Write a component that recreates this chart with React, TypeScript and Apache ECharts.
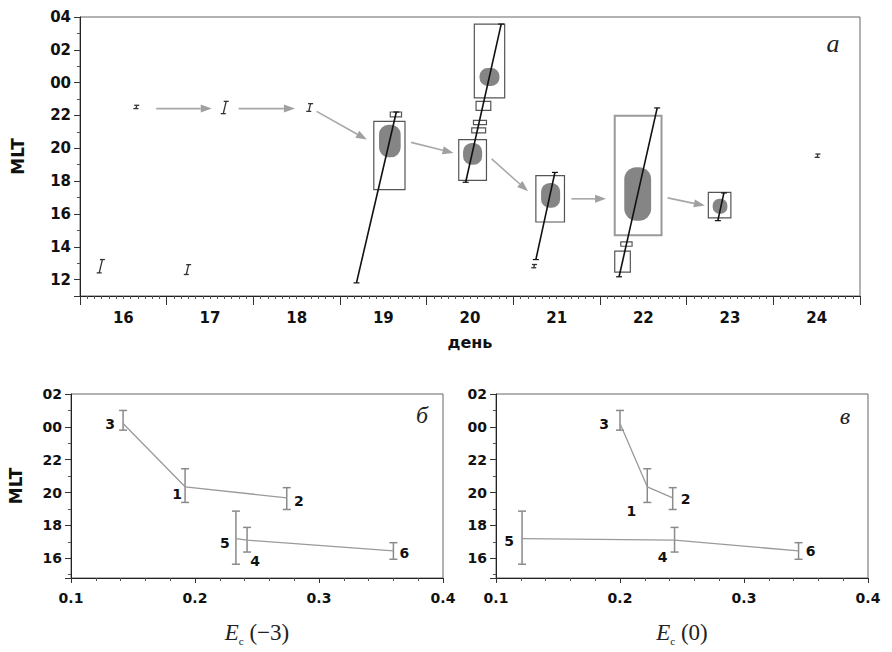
import React, { useEffect, useRef } from 'react';
import * as echarts from 'echarts';

// ---------- panel a: day vs MLT (values above 24 are hours after midnight) ----------
const dayLabels = ['16', '17', '18', '19', '20', '21', '22', '23', '24'];

// [dayFrom, dayTo, mltLow, mltHigh]
const regionBoxes = [
  [19.39, 19.75, 17.48, 21.64],
  [19.58, 19.71, 21.91, 22.21],
  [20.55, 20.90, 23.07, 27.57],
  [20.57, 20.74, 22.31, 22.86],
  [20.54, 20.69, 21.44, 21.70],
  [20.52, 20.68, 20.94, 21.24],
  [20.37, 20.69, 18.05, 20.53],
  [21.26, 21.59, 15.51, 18.33],
  [22.24, 22.37, 14.03, 14.30],
  [22.17, 22.35, 12.45, 13.73],
  [23.25, 23.51, 15.76, 17.32],
];
const wideBoxes = [[22.17, 22.71, 14.70, 21.99]];

// [dayFrom, dayTo, mltLow, mltHigh]
const blobs = [
  [19.45, 19.70, 19.45, 21.44],
  [20.61, 20.84, 23.80, 24.89],
  [20.42, 20.64, 19.00, 20.33],
  [21.32, 21.54, 16.37, 17.89],
  [22.28, 22.59, 15.59, 18.84],
  [23.30, 23.47, 16.01, 16.92],
];

// [day1, mlt1, day2, mlt2]
const fitLines = [
  [19.19, 11.80, 19.65, 22.21],
  [20.45, 17.93, 20.86, 27.57],
  [21.26, 13.22, 21.48, 18.53],
  [22.22, 12.17, 22.66, 22.46],
  [23.36, 15.59, 23.43, 17.28],
];

const driftArrows = [
  [16.88, 22.42, 17.52, 22.42],
  [17.83, 22.42, 18.48, 22.42],
  [18.73, 22.25, 19.31, 20.53],
  [19.82, 20.36, 20.31, 19.72],
  [20.75, 19.35, 21.17, 17.38],
  [21.67, 16.92, 22.07, 16.92],
  [22.78, 16.98, 23.21, 16.51],
];

// [day, mltLow, mltHigh]
const spotMarks = [
  [16.65, 22.42, 22.62],
  [17.67, 22.11, 22.86],
  [18.65, 22.25, 22.72],
  [16.24, 12.41, 13.22],
  [17.24, 12.31, 12.91],
  [21.24, 12.72, 12.92],
  [24.51, 19.45, 19.65],
];

// ---------- panels б and в ----------
const pointIds = ['1', '2', '3', '4', '5', '6'];
const mltMean = [20.35, 19.68, 24.2, 17.1, 17.2, 16.45];
const mltLow = [19.4, 18.97, 23.8, 16.38, 15.64, 15.94];
const mltHigh = [21.45, 20.3, 25.0, 17.88, 18.87, 16.95];
const ecMinus3 = [0.192, 0.274, 0.142, 0.242, 0.233, 0.36];
const ecZero = [0.222, 0.2425, 0.2, 0.244, 0.121, 0.344];
const chainA = [2, 0, 1]; // 3 -> 1 -> 2
const chainB = [4, 3, 5]; // 5 -> 4 -> 6

// label offsets in px (styling)
const labelOffB = [[-8, 7], [12, 3], [-13, 0], [8, 21], [-11, 4], [11, 2]];
const labelOffV = [[-16, 24], [13, 1], [-16, 0], [-12, 17], [-13, 2], [12, 0]];

const mltFormat = (v: number) => {
  const r = Math.round(v);
  if (Math.abs(v - r) > 1e-6 || r % 2 !== 0) return '';
  const h = ((r % 24) + 24) % 24;
  return String(h).padStart(2, '0');
};

const tickFont = { fontFamily: 'DejaVu Sans', fontWeight: 'bold' as const, color: '#111' };
const axisLineStyle = { color: '#222', width: 1 };

function boxRender(stroke: string, lw: number) {
  return (params: any, api: any) => {
    const a = api.coord([api.value(0), api.value(3)]);
    const b = api.coord([api.value(1), api.value(2)]);
    return {
      type: 'rect',
      shape: { x: a[0], y: a[1], width: b[0] - a[0], height: b[1] - a[1] },
      style: { fill: 'none', stroke, lineWidth: lw },
    };
  };
}

function blobRender(params: any, api: any) {
  const a = api.coord([api.value(0), api.value(3)]);
  const b = api.coord([api.value(1), api.value(2)]);
  const w = b[0] - a[0];
  const h = b[1] - a[1];
  return {
    type: 'rect',
    shape: { x: a[0], y: a[1], width: w, height: h, r: Math.min(w, h) * 0.45 },
    style: { fill: '#858585', stroke: 'none' },
  };
}

function fitLineRender(params: any, api: any) {
  const p1 = api.coord([api.value(0), api.value(1)]);
  const p2 = api.coord([api.value(2), api.value(3)]);
  const cap = 3;
  return {
    type: 'group',
    children: [
      { type: 'line', shape: { x1: p1[0], y1: p1[1], x2: p2[0], y2: p2[1] }, style: { stroke: '#111', lineWidth: 1.6 } },
      { type: 'line', shape: { x1: p1[0] - cap, y1: p1[1], x2: p1[0] + cap, y2: p1[1] }, style: { stroke: '#111', lineWidth: 1.2 } },
      { type: 'line', shape: { x1: p2[0] - cap, y1: p2[1], x2: p2[0] + cap, y2: p2[1] }, style: { stroke: '#111', lineWidth: 1.2 } },
    ],
  };
}

function arrowRender(params: any, api: any) {
  const p1 = api.coord([api.value(0), api.value(1)]);
  const p2 = api.coord([api.value(2), api.value(3)]);
  const ang = Math.atan2(p2[1] - p1[1], p2[0] - p1[0]);
  const L = 11;
  const W = 4;
  const c = Math.cos(ang);
  const s = Math.sin(ang);
  const bx = p2[0] - L * c;
  const by = p2[1] - L * s;
  return {
    type: 'group',
    children: [
      { type: 'line', shape: { x1: p1[0], y1: p1[1], x2: bx, y2: by }, style: { stroke: '#a8a8a8', lineWidth: 1.6 } },
      {
        type: 'polygon',
        shape: { points: [[p2[0], p2[1]], [bx - W * s, by + W * c], [bx + W * s, by - W * c]] },
        style: { fill: '#a0a0a0', stroke: 'none' },
      },
    ],
  };
}

function spotRender(params: any, api: any) {
  const lo = api.coord([api.value(0), api.value(1)]);
  const hi = api.coord([api.value(0), api.value(2)]);
  const sl = (lo[1] - hi[1]) * 0.12;
  const cap = 2.5;
  const st = { stroke: '#333', lineWidth: 1.3 };
  return {
    type: 'group',
    children: [
      { type: 'line', shape: { x1: lo[0] - sl, y1: lo[1], x2: hi[0] + sl, y2: hi[1] }, style: st },
      { type: 'line', shape: { x1: lo[0] - sl - cap, y1: lo[1], x2: lo[0] - sl + cap, y2: lo[1] }, style: st },
      { type: 'line', shape: { x1: hi[0] + sl - cap, y1: hi[1], x2: hi[0] + sl + cap, y2: hi[1] }, style: st },
    ],
  };
}

function errRender(offsets: number[][]) {
  return (params: any, api: any) => {
    const i = params.dataIndex;
    const m = api.coord([api.value(0), api.value(1)]);
    const lo = api.coord([api.value(0), api.value(2)]);
    const hi = api.coord([api.value(0), api.value(3)]);
    const cap = 4;
    const st = { stroke: '#8a8a8a', lineWidth: 1.5 };
    return {
      type: 'group',
      children: [
        { type: 'line', shape: { x1: lo[0], y1: lo[1], x2: hi[0], y2: hi[1] }, style: st },
        { type: 'line', shape: { x1: lo[0] - cap, y1: lo[1], x2: lo[0] + cap, y2: lo[1] }, style: st },
        { type: 'line', shape: { x1: hi[0] - cap, y1: hi[1], x2: hi[0] + cap, y2: hi[1] }, style: st },
        {
          type: 'text',
          x: m[0] + offsets[i][0],
          y: m[1] + offsets[i][1],
          style: {
            text: pointIds[i],
            fontFamily: 'DejaVu Sans',
            fontWeight: 'bold',
            fontSize: 14,
            fill: '#111',
            align: 'center',
            verticalAlign: 'middle',
          },
        },
      ],
    };
  };
}

function ecAxis(gridIndex: number, label: string) {
  return {
    type: 'value',
    gridIndex,
    min: 0.1,
    max: 0.4,
    interval: 0.1,
    axisLine: { show: true, lineStyle: axisLineStyle },
    axisTick: { show: true, length: 5, lineStyle: { color: '#333' } },
    minorTick: { show: true, splitNumber: 5, length: 3, lineStyle: { color: '#555' } },
    splitLine: { show: false },
    axisLabel: { ...tickFont, fontSize: 14, margin: 13, formatter: (v: number) => v.toFixed(1) },
    name: `{e|E}{s|c}{n| (${label})}`,
    nameLocation: 'middle',
    nameGap: 40,
    nameTextStyle: {
      rich: {
        e: { fontFamily: 'Liberation Serif', fontStyle: 'italic', fontSize: 23, color: '#222' },
        s: { fontFamily: 'Liberation Serif', fontSize: 11, color: '#222', verticalAlign: 'bottom', lineHeight: 28 },
        n: { fontFamily: 'Liberation Serif', fontSize: 23, color: '#222' },
      },
    },
  };
}

function mltAxis(gridIndex: number, min: number, max: number, gap: number, showName: boolean, fontSize: number) {
  return {
    type: 'value',
    gridIndex,
    min,
    max,
    minInterval: 2,
    maxInterval: 2,
    axisLine: { show: true, lineStyle: axisLineStyle },
    axisTick: { show: true, length: 6, lineStyle: { color: '#333' } },
    minorTick: { show: true, splitNumber: 2, length: 3, lineStyle: { color: '#555' } },
    splitLine: { show: false },
    axisLabel: { ...tickFont, fontSize, margin: 9, formatter: mltFormat },
    name: showName ? 'MLT' : '',
    nameLocation: 'middle',
    nameRotate: 90,
    nameGap: gap,
    nameTextStyle: { fontFamily: 'DejaVu Sans', fontWeight: 'bold', fontSize: 17, color: '#111' },
  };
}

const gridBorder = { show: true, borderColor: '#666', borderWidth: 1 };

const option: any = {
  animation: false,
  backgroundColor: '#fff',
  grid: [
    { left: 80, right: 32, top: 17, bottom: 356, ...gridBorder },
    { left: 71, right: 449, top: 394, bottom: 74, ...gridBorder },
    { left: 496, right: 24, top: 394, bottom: 74, ...gridBorder },
  ],
  xAxis: [
    {
      type: 'value',
      gridIndex: 0,
      min: 16,
      max: 25,
      interval: 1,
      position: 'bottom',
      axisLine: { show: true, lineStyle: axisLineStyle },
      axisTick: { show: true, length: 9, lineStyle: { color: '#333' } },
      minorTick: { show: true, splitNumber: 12, length: 3, lineStyle: { color: '#555' } },
      splitLine: { show: false },
      axisLabel: { show: false },
    },
    {
      type: 'category',
      gridIndex: 0,
      position: 'bottom',
      data: dayLabels,
      axisLine: { show: false },
      axisTick: { show: false },
      axisLabel: { ...tickFont, fontSize: 15, margin: 14 },
      name: 'день',
      nameLocation: 'middle',
      nameGap: 38,
      nameTextStyle: { fontFamily: 'DejaVu Sans', fontWeight: 'bold', fontSize: 16, color: '#111' },
    },
    ecAxis(1, '−3'),
    ecAxis(2, '0'),
  ],
  yAxis: [
    mltAxis(0, 11, 28, 54, true, 15),
    mltAxis(1, 14.8, 26, 47, true, 14),
    mltAxis(2, 14.8, 26, 47, false, 14),
  ],
  graphic: [
    { type: 'text', x: 833, y: 43, style: { text: 'а', fontFamily: 'Liberation Serif', fontStyle: 'italic', fontSize: 26, fill: '#222', align: 'center', verticalAlign: 'middle' } },
    { type: 'text', x: 422, y: 415, style: { text: 'б', fontFamily: 'Liberation Serif', fontStyle: 'italic', fontSize: 24, fill: '#222', align: 'center', verticalAlign: 'middle' } },
    { type: 'text', x: 845, y: 416, style: { text: 'в', fontFamily: 'Liberation Serif', fontStyle: 'italic', fontSize: 24, fill: '#222', align: 'center', verticalAlign: 'middle' } },
  ],
  series: [
    { type: 'custom', xAxisIndex: 0, yAxisIndex: 0, data: blobs, renderItem: blobRender, clip: false, silent: true },
    { type: 'custom', xAxisIndex: 0, yAxisIndex: 0, data: regionBoxes, renderItem: boxRender('#555', 1.2), clip: false, silent: true },
    { type: 'custom', xAxisIndex: 0, yAxisIndex: 0, data: wideBoxes, renderItem: boxRender('#9a9a9a', 2), clip: false, silent: true },
    { type: 'custom', xAxisIndex: 0, yAxisIndex: 0, data: driftArrows, renderItem: arrowRender, clip: false, silent: true },
    { type: 'custom', xAxisIndex: 0, yAxisIndex: 0, data: fitLines, renderItem: fitLineRender, clip: false, silent: true },
    { type: 'custom', xAxisIndex: 0, yAxisIndex: 0, data: spotMarks, renderItem: spotRender, clip: false, silent: true },

    {
      type: 'line', xAxisIndex: 2, yAxisIndex: 1, symbol: 'none', silent: true,
      lineStyle: { color: '#9a9a9a', width: 1.3 },
      data: chainA.map((i) => [ecMinus3[i], mltMean[i]]),
    },
    {
      type: 'line', xAxisIndex: 2, yAxisIndex: 1, symbol: 'none', silent: true,
      lineStyle: { color: '#9a9a9a', width: 1.3 },
      data: chainB.map((i) => [ecMinus3[i], mltMean[i]]),
    },
    {
      type: 'custom', xAxisIndex: 2, yAxisIndex: 1, clip: false, silent: true,
      data: pointIds.map((_, i) => [ecMinus3[i], mltMean[i], mltLow[i], mltHigh[i]]),
      renderItem: errRender(labelOffB),
    },
    {
      type: 'line', xAxisIndex: 3, yAxisIndex: 2, symbol: 'none', silent: true,
      lineStyle: { color: '#9a9a9a', width: 1.3 },
      data: chainA.map((i) => [ecZero[i], mltMean[i]]),
    },
    {
      type: 'line', xAxisIndex: 3, yAxisIndex: 2, symbol: 'none', silent: true,
      lineStyle: { color: '#9a9a9a', width: 1.3 },
      data: chainB.map((i) => [ecZero[i], mltMean[i]]),
    },
    {
      type: 'custom', xAxisIndex: 3, yAxisIndex: 2, clip: false, silent: true,
      data: pointIds.map((_, i) => [ecZero[i], mltMean[i], mltLow[i], mltHigh[i]]),
      renderItem: errRender(labelOffV),
    },
  ],
};

export default function App() {
  const ref = useRef<HTMLDivElement>(null);
  useEffect(() => {
    const chart = echarts.init(ref.current!, undefined, { renderer: 'svg' });
    chart.setOption(option);
    return () => chart.dispose();
  }, []);
  return (
    <div
      ref={ref}
      style={{ position: 'absolute', left: 0, top: 0, width: 892, height: 652, background: '#fff' }}
    />
  );
}
